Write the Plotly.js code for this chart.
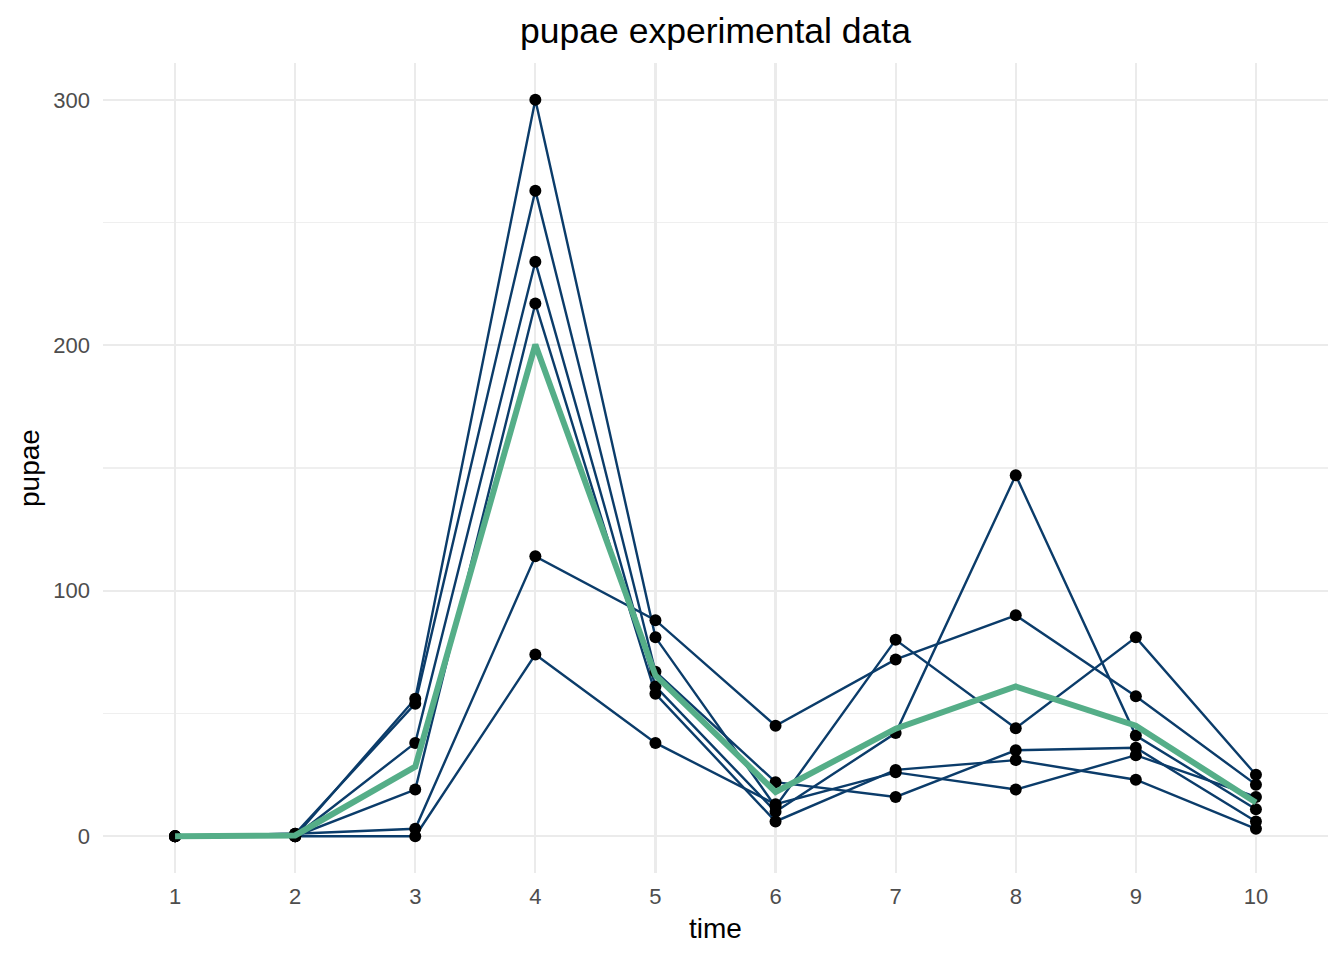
<!DOCTYPE html>
<html>
<head>
<meta charset="utf-8">
<script src="https://cdn.plot.ly/plotly-3.0.1.min.js"></script>
<style>html,body{margin:0;padding:0;background:#fff;}#chart{width:1344px;height:960px;}</style>
</head>
<body>
<div id="chart"></div>
<script>
// time points
const time = [1, 2, 3, 4, 5, 6, 7, 8, 9, 10];
// individual experimental replicates (pupae counts)
const rep1 = [0, 0, 56, 300, 81, 12, 80, 44, 81, 25];
const rep2 = [0, 1, 54, 263, 67, 22, 16, 35, 36, 6];
const rep3 = [0, 0, 38, 234, 61, 10, 42, 147, 41, 11];
const rep4 = [0, 0, 19, 217, 58, 6, 27, 31, 23, 3];
const rep5 = [0, 1, 3, 114, 88, 45, 72, 90, 57, 21];
const rep6 = [0, 0, 0, 74, 38, 13, 26, 19, 33, 16];
// mean curve
const meanPupae = [0, 0.3, 28.3, 200.3, 65.5, 18, 43.8, 61, 45, 13.7];
const yTicks = [0, 100, 200, 300];
const xTickLabels = ['1','2','3','4','5','6','7','8','9','10'];

const reps = [rep1, rep2, rep3, rep4, rep5, rep6];
const lineColor = '#0b3c6a';
const traces = [];
reps.forEach(r => {
  traces.push({x: time, y: r, type: 'scatter', mode: 'lines',
    line: {color: lineColor, width: 2.4}, hoverinfo: 'skip', showlegend: false});
});
reps.forEach(r => {
  traces.push({x: time, y: r, type: 'scatter', mode: 'markers',
    marker: {color: '#000000', size: 12}, showlegend: false});
});
traces.push({x: time, y: meanPupae, type: 'scatter', mode: 'lines',
  line: {color: '#55ae88', width: 6}, showlegend: false});

const font = 'Liberation Sans, Arial, Helvetica, sans-serif';
const layout = {
  width: 1344, height: 960,
  paper_bgcolor: '#ffffff', plot_bgcolor: '#ffffff',
  margin: {l: 103, r: 16, t: 63, b: 87},
  showlegend: false,
  title: {text: 'pupae experimental data', x: 0.5, xanchor: 'center', xref: 'paper',
    y: 1 - 31/960, yanchor: 'middle', yref: 'container',
    font: {family: font, size: 35.5, color: '#000000'}},
  xaxis: {
    range: [0.4, 10.6], tickmode: 'array', tickvals: time, ticktext: xTickLabels,
    showgrid: true, gridcolor: '#ebebeb', gridwidth: 2.2, zeroline: false, showline: false,
    ticks: '', ticklabelstandoff: 8,
    tickfont: {family: font, size: 22, color: '#4d4d4d'},
    title: {text: 'time', font: {family: font, size: 28, color: '#000000'}, standoff: 10}
  },
  yaxis: {
    range: [-15, 315], tickmode: 'array', tickvals: yTicks,
    showgrid: true, gridcolor: '#ebebeb', gridwidth: 2.2, zeroline: false, showline: false,
    minor: {tickvals: [50, 150, 250], showgrid: true, gridcolor: '#efefef', gridwidth: 1.1, ticks: ''},
    ticks: '', ticklabelstandoff: 12,
    tickfont: {family: font, size: 22, color: '#4d4d4d'},
    title: {text: 'pupae', font: {family: font, size: 28, color: '#000000'}, standoff: 5}
  }
};
Plotly.newPlot('chart', traces, layout, {displayModeBar: false, staticPlot: true});
</script>
</body>
</html>
